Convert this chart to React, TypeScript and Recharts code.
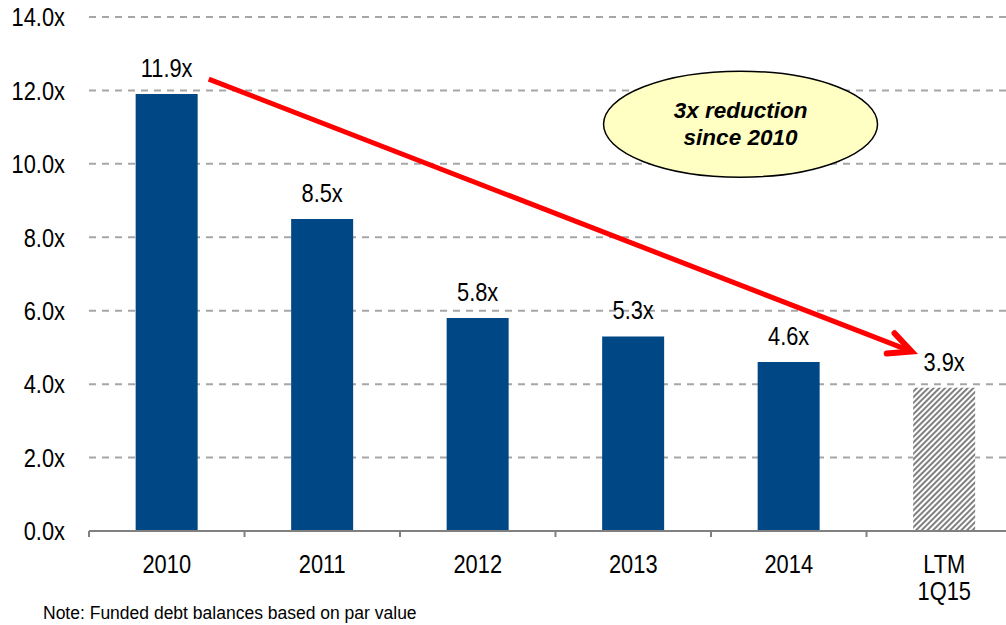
import { BarChart, Bar, XAxis, YAxis, CartesianGrid, Cell, LabelList, ReferenceLine } from 'recharts'

const years = ['2010', '2011', '2012', '2013', '2014', 'LTM 1Q15']
const multiples = [11.9, 8.5, 5.8, 5.3, 4.6, 3.9]
const yTicks = [0, 2, 4, 6, 8, 10, 12, 14]
// arrow ends: category + shift in bands from the category centre
const arrowFrom = { year: '2010', shift: 0.27, value: 12.31 }
const arrowTo = { year: 'LTM 1Q15', shift: -0.21, value: 4.89 }
// callout sits between 2013 and 2014 centres
const callout = { from: '2013', to: '2014', at: 0.69, value: 11.08, lines: ['3x reduction', 'since 2010'] }
const note = 'Note: Funded debt balances based on par value'

const data = years.map((year, i) => ({ year, value: multiples[i] }))

const SANS = "'Liberation Sans', Arial, sans-serif"
const SQUEEZE = 0.84
const BLUE = '#004785'
const RED = '#ff0000'
const AXIS = '#808080'

function NarrowText({ x, y, anchor, dy, children }: any) {
  return (
    <text
      transform={`translate(${x},${y}) scale(${SQUEEZE},1)`}
      textAnchor={anchor}
      dy={dy}
      fill="#000"
      fontSize={26}
      fontFamily={SANS}
    >
      {children}
    </text>
  )
}

function YearTick(props: any) {
  const { x, y, payload, index, width, visibleTicksCount } = props
  const band = width / visibleTicksCount
  const lines = String(payload.value).split(' ')
  return (
    <g>
      <line x1={x - band / 2} x2={x - band / 2} y1={y} y2={y + 6} stroke={AXIS} strokeWidth={2} />
      {index === visibleTicksCount - 1 && (
        <line x1={x + band / 2} x2={x + band / 2} y1={y} y2={y + 6} stroke={AXIS} strokeWidth={2} />
      )}
      {lines.map((l, i) => (
        <NarrowText key={i} x={x} y={y + 42 + i * 27} anchor="middle">{l}</NarrowText>
      ))}
    </g>
  )
}

function ValueTick(props: any) {
  const { x, y, payload } = props
  return <NarrowText x={x} y={y} anchor="end" dy="0.355em">{payload.value.toFixed(1) + 'x'}</NarrowText>
}

function ValueLabel(props: any) {
  const { x, y, width, value } = props
  return <NarrowText x={x + width / 2} y={y - 17} anchor="middle">{Number(value).toFixed(1) + 'x'}</NarrowText>
}

function Arrow(props: any) {
  const { x1: cx1, y1, x2: cx2, y2 } = props
  const band = (cx2 - cx1) / (years.indexOf(arrowTo.year) - years.indexOf(arrowFrom.year))
  const x1 = cx1 + arrowFrom.shift * band
  const x2 = cx2 + arrowTo.shift * band
  const a = Math.atan2(y2 - y1, x2 - x1)
  const len = 25
  const spread = 0.45
  const ax = x2 - len * Math.cos(a - spread)
  const ay = y2 - len * Math.sin(a - spread)
  const bx = x2 - len * Math.cos(a + spread)
  const by = y2 - len * Math.sin(a + spread)
  return (
    <g>
      <line x1={x1} y1={y1} x2={x2 - 3 * Math.cos(a)} y2={y2 - 3 * Math.sin(a)} stroke={RED} strokeWidth={5} />
      <polyline points={`${ax},${ay} ${x2},${y2} ${bx},${by}`} fill="none" stroke={RED} strokeWidth={6} strokeLinecap="round" />
    </g>
  )
}

function Callout(props: any) {
  const { x1, x2, y1 } = props
  const cx = x1 + callout.at * (x2 - x1)
  const cy = y1
  const textStyle = { fontSize: 22.5, fontWeight: 'bold' as const, fontStyle: 'italic' as const, fontFamily: SANS }
  return (
    <g>
      <ellipse cx={cx} cy={cy} rx={137} ry={53} fill="#ffffc4" stroke="#000" strokeWidth={1.5} />
      <text x={cx} y={cy - 6} textAnchor="middle" style={textStyle}>{callout.lines[0]}</text>
      <text x={cx} y={cy + 21} textAnchor="middle" style={textStyle}>{callout.lines[1]}</text>
    </g>
  )
}

export default function App() {
  return (
    <div style={{ position: 'absolute', left: 8, top: 0, width: 998, height: 625, overflow: 'hidden' }}>
      <BarChart
        width={1030}
        height={625}
        data={data}
        barCategoryGap="30%"
        margin={{ top: 17, right: 16, left: 0, bottom: 24 }}
      >
        <defs>
          <pattern id="hatch" width="4" height="4" patternUnits="userSpaceOnUse" patternTransform="rotate(45)">
            <rect width="4" height="4" fill="#fff" />
            <rect width="2" height="4" fill="#808080" />
          </pattern>
        </defs>
        <CartesianGrid vertical={false} stroke="#a6a6a6" strokeWidth={2} strokeDasharray="7 6" />
        <XAxis
          dataKey="year"
          height={70}
          axisLine={{ stroke: AXIS, strokeWidth: 2 }}
          tickLine={false}
          tickSize={0}
          tickMargin={0}
          interval={0}
          tick={<YearTick />}
        />
        <YAxis
          domain={[0, 14]}
          ticks={yTicks}
          width={81}
          axisLine={false}
          tickLine={false}
          tickSize={0}
          tickMargin={24}
          tick={<ValueTick />}
        />
        <Bar dataKey="value" fill={BLUE} isAnimationActive={false}>
          {data.map((d, i) => (
            <Cell key={d.year} fill={i === data.length - 1 ? 'url(#hatch)' : BLUE} />
          ))}
          <LabelList dataKey="value" content={<ValueLabel />} />
        </Bar>
        <ReferenceLine
          segment={[
            { x: arrowFrom.year, y: arrowFrom.value },
            { x: arrowTo.year, y: arrowTo.value },
          ]}
          shape={<Arrow />}
        />
        <ReferenceLine
          segment={[
            { x: callout.from, y: callout.value },
            { x: callout.to, y: callout.value },
          ]}
          shape={<Callout />}
        />
      </BarChart>
      <svg width={998} height={625} style={{ position: 'absolute', left: 0, top: 0, pointerEvents: 'none' }}>
        <text x={35} y={619} fontSize={17.5} fontFamily={SANS} fill="#000">{note}</text>
      </svg>
    </div>
  )
}
